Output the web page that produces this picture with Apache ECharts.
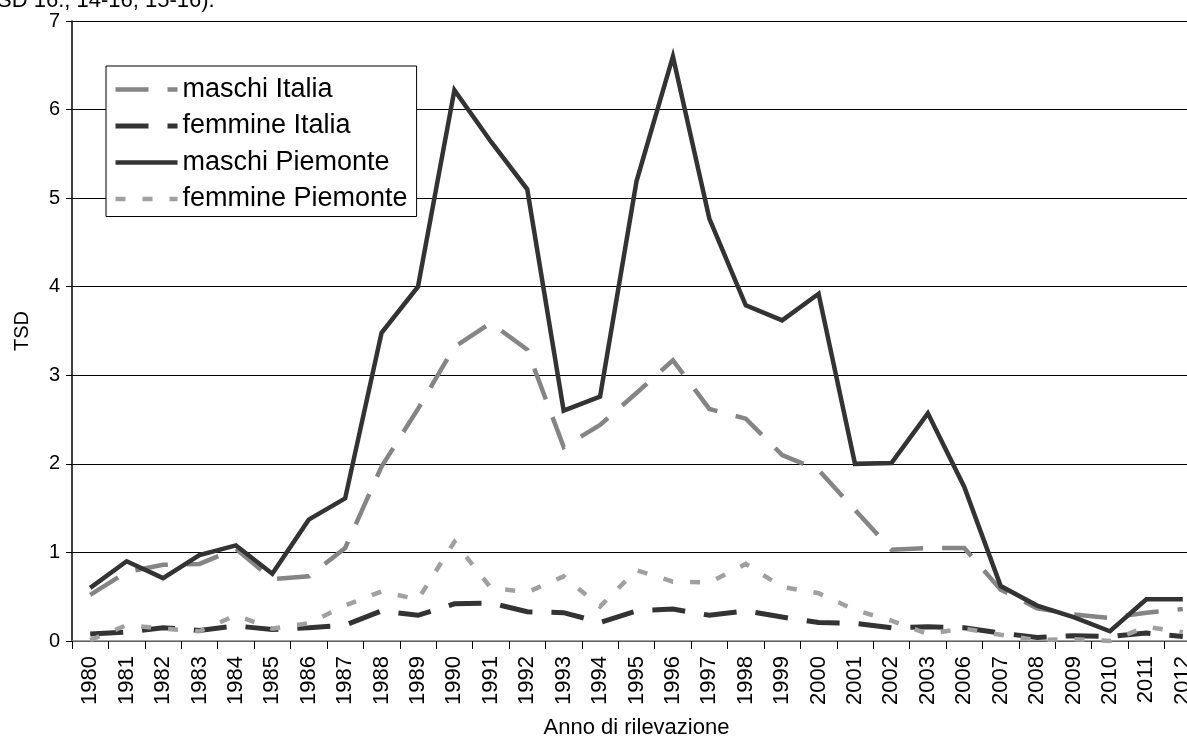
<!DOCTYPE html>
<html>
<head>
<meta charset="utf-8">
<title>TSD</title>
<script src="https://cdn.jsdelivr.net/npm/echarts@6/dist/echarts.min.js"></script>
<style>
  html, body { margin: 0; padding: 0; background: #fff; overflow: hidden; }
  #chart { width: 1187px; height: 738px; }
</style>
</head>
<body>
<div id="chart"></div>
<script>
// anni di rilevazione (2004 e 2005 mancano)
const years = ['1980', '1981', '1982', '1983', '1984', '1985', '1986', '1987', '1988', '1989',
  '1990', '1991', '1992', '1993', '1994', '1995', '1996', '1997', '1998', '1999',
  '2000', '2001', '2002', '2003', '2006', '2007', '2008', '2009', '2010', '2011', '2012']

const maschiItalia = [0.52, 0.78, 0.86, 0.87, 1.04, 0.70, 0.73, 1.05, 1.97, 2.62,
  3.32, 3.59, 3.29, 2.19, 2.44, 2.80, 3.17, 2.62, 2.51, 2.10,
  1.93, 1.48, 1.03, 1.05, 1.05, 0.58, 0.37, 0.30, 0.26, 0.32, 0.36]

const femmineItalia = [0.08, 0.10, 0.15, 0.12, 0.17, 0.13, 0.15, 0.18, 0.34, 0.29,
  0.42, 0.43, 0.33, 0.32, 0.21, 0.34, 0.36, 0.29, 0.34, 0.27,
  0.21, 0.20, 0.15, 0.16, 0.15, 0.09, 0.04, 0.06, 0.05, 0.09, 0.05]

const maschiPiemonte = [0.60, 0.90, 0.71, 0.97, 1.08, 0.76, 1.37, 1.61, 3.48, 4.00,
  6.22, 5.64, 5.10, 2.60, 2.76, 5.19, 6.60, 4.77, 3.79, 3.62,
  3.92, 2.00, 2.01, 2.57, 1.74, 0.62, 0.40, 0.27, 0.11, 0.47, 0.47]

const femminePiemonte = [0.01, 0.18, 0.14, 0.11, 0.29, 0.14, 0.20, 0.40, 0.56, 0.47,
  1.12, 0.60, 0.55, 0.73, 0.39, 0.80, 0.67, 0.66, 0.87, 0.61,
  0.54, 0.35, 0.23, 0.08, 0.14, 0.07, 0.01, 0.02, 0.00, 0.16, 0.10]

const seriesNames = ['maschi Italia', 'femmine Italia', 'maschi Piemonte', 'femmine Piemonte']
const yTicks = [0, 1, 2, 3, 4, 5, 6, 7]

const font = '"Liberation Sans", Arial, sans-serif'
const longDash = [33, 19]
const shortDash = [10, 17]

const chart = echarts.init(document.getElementById('chart'), null, { renderer: 'canvas' })

function lineSerie(name, data, color, width, dash) {
  return {
    name: name,
    type: 'line',
    data: data,
    symbol: 'none',
    animation: false,
    lineStyle: {
      color: color,
      width: width,
      type: dash || 'solid',
      cap: 'butt',
      join: 'miter'
    },
    itemStyle: { color: color }
  }
}

chart.setOption({
  backgroundColor: '#fff',
  textStyle: { fontFamily: font, color: '#000' },
  graphic: [{
    type: 'text',
    left: -3,
    top: -10,
    style: {
      text: 'SD 16.; 14-16; 15-16).',
      font: '22px ' + font,
      fill: '#000'
    }
  }],
  grid: {
    left: 72,
    top: 21,
    width: 1129,
    height: 620,
    outerBoundsMode: 'none',
    containLabel: false
  },
  legend: {
    data: seriesNames,
    orient: 'vertical',
    left: 106,
    top: 66,
    padding: [10, 9, 4, 7],
    itemWidth: 62,
    itemHeight: 14,
    itemGap: 9.5,
    backgroundColor: '#fff',
    borderColor: '#000',
    borderWidth: 1,
    borderRadius: 0,
    itemStyle: { opacity: 0 },
    lineStyle: { width: 'inherit' },
    textStyle: {
      fontFamily: font,
      fontSize: 27,
      lineHeight: 27,
      color: '#000'
    }
  },
  xAxis: {
    type: 'category',
    data: years,
    boundaryGap: true,
    name: 'Anno di rilevazione',
    nameLocation: 'middle',
    nameGap: 76,
    nameTextStyle: { fontFamily: font, fontSize: 22, color: '#000' },
    axisLine: { lineStyle: { color: '#808080', width: 1.5 } },
    axisTick: { show: true, length: 8, lineStyle: { color: '#000', width: 1 } },
    axisLabel: {
      rotate: 90,
      interval: 0,
      margin: 15,
      fontFamily: font,
      fontSize: 22,
      color: '#000'
    },
    splitLine: { show: false }
  },
  yAxis: {
    type: 'value',
    min: yTicks[0],
    max: yTicks[yTicks.length - 1],
    interval: 1,
    name: 'TSD',
    nameLocation: 'middle',
    nameGap: 40,
    nameTextStyle: { fontFamily: font, fontSize: 20, color: '#000' },
    axisLine: { show: true, lineStyle: { color: '#000', width: 1.5 } },
    axisTick: { show: true, length: 6, lineStyle: { color: '#000', width: 1 } },
    axisLabel: { margin: 12, fontFamily: font, fontSize: 20, color: '#000' },
    splitLine: { show: true, lineStyle: { color: '#000', width: 1 } }
  },
  series: [
    lineSerie(seriesNames[0], maschiItalia, '#858585', 4.5, longDash),
    lineSerie(seriesNames[1], femmineItalia, '#333333', 5, longDash),
    lineSerie(seriesNames[2], maschiPiemonte, '#333333', 4.5),
    lineSerie(seriesNames[3], femminePiemonte, '#a0a0a0', 4.5, shortDash)
  ]
})
</script>
</body>
</html>
